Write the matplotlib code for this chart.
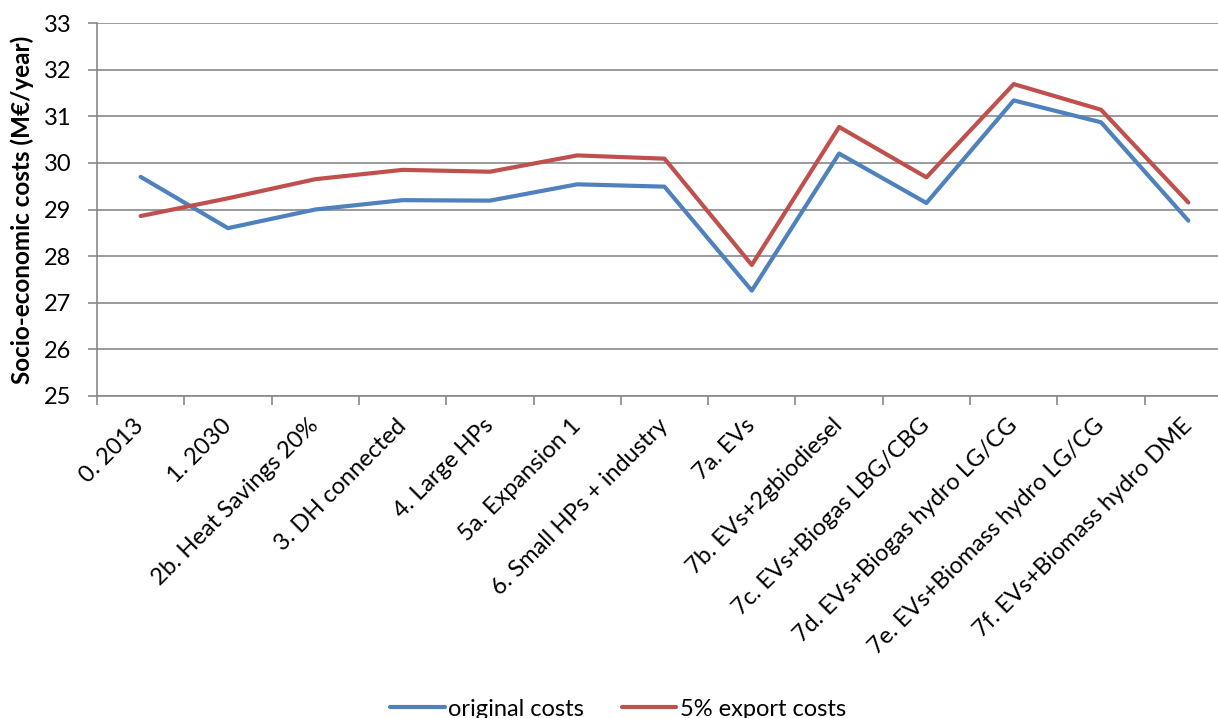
import matplotlib
matplotlib.use("Agg")
import matplotlib.pyplot as plt
import numpy as np

categories = ["0. 2013", "1. 2030", "2b. Heat Savings 20%", "3. DH connected",
              "4. Large HPs", "5a. Expansion 1", "6. Small HPs + industry",
              "7a. EVs", "7b. EVs+2gbiodiesel", "7c. EVs+Biogas LBG/CBG",
              "7d. EVs+Biogas hydro LG/CG", "7e. EVs+Biomass hydro LG/CG",
              "7f. EVs+Biomass hydro DME"]
original_costs = [29.70, 28.60, 29.00, 29.20, 29.19, 29.54, 29.49,
                  27.26, 30.20, 29.14, 31.34, 30.87, 28.76]
export_costs = [28.86, 29.24, 29.65, 29.85, 29.81, 30.16, 30.09,
                27.81, 30.77, 29.69, 31.69, 31.14, 29.15]
y_ticks = [25, 26, 27, 28, 29, 30, 31, 32, 33]

plt.rcParams['font.family'] = ['Lato', 'DejaVu Sans']

fig = plt.figure(figsize=(12.18, 7.18), dpi=100)
ax = fig.add_axes([97/1218, (718-396)/718, (1232-97)/1218, (396-23)/718])

x = np.arange(len(categories))
ax.plot(x, original_costs, color="#4F81BD", lw=3.0, label="original costs", solid_capstyle="round")
ax.plot(x, export_costs, color="#C0504D", lw=3.0, label="5% export costs", solid_capstyle="round")

ax.set_xlim(-0.5, len(categories) - 0.5)
ax.set_ylim(25, 33)
ax.set_yticks(y_ticks)
ax.yaxis.grid(True, color="#898989", lw=1.2)
ax.set_axisbelow(True)

for s in ["top", "right"]:
    ax.spines[s].set_visible(False)
for s in ["left", "bottom"]:
    ax.spines[s].set_color("#898989")
    ax.spines[s].set_linewidth(1.2)

ax.set_xticks(x)
ax.set_xticklabels(categories, rotation=45, ha="right", va="center",
                   rotation_mode="anchor", fontsize=17)
ax.set_xticks(np.arange(len(categories) + 1) - 0.5, minor=True)
ax.tick_params(axis="x", which="major", length=0, pad=19)
ax.tick_params(axis="x", which="minor", length=6.5, color="#898989", width=1.2)
ax.tick_params(axis="y", length=6.5, color="#898989", width=1.2, labelsize=17, pad=12)

ax.set_ylabel("Socio-economic costs (M€/year)", fontsize=17.5, fontweight="bold", labelpad=7)

fig.legend(loc="center", bbox_to_anchor=(618/1218, 1 - 709/718), ncol=2, frameon=False,
           fontsize=17, handlelength=2.3, columnspacing=1.6, handletextpad=0.15)

fig.savefig("out.png", dpi=100)
